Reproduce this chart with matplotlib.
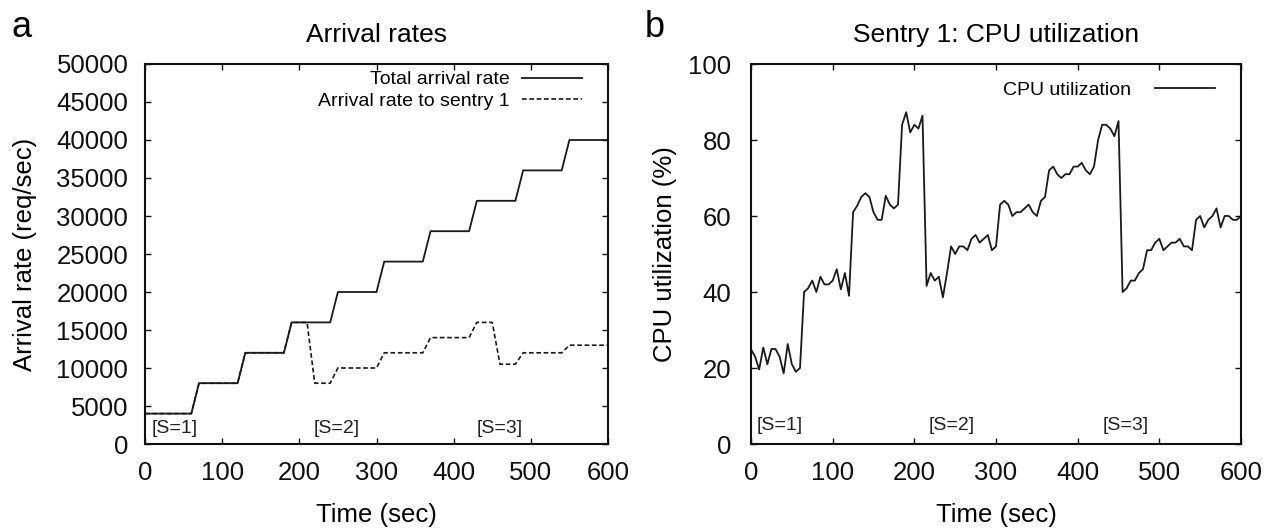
import numpy as np
import matplotlib
matplotlib.use("Agg")
import matplotlib.pyplot as plt

plt.rcParams['font.family'] = ['Liberation Sans', 'DejaVu Sans']

# ---------------- data ----------------
t_arrival = np.arange(0, 601, 10)
total_rate = [4000, 4000, 4000, 4000, 4000, 4000, 4000,
              8000, 8000, 8000, 8000, 8000, 8000,
              12000, 12000, 12000, 12000, 12000, 12000,
              16000, 16000, 16000, 16000, 16000, 16000,
              20000, 20000, 20000, 20000, 20000, 20000,
              24000, 24000, 24000, 24000, 24000, 24000,
              28000, 28000, 28000, 28000, 28000, 28000,
              32000, 32000, 32000, 32000, 32000, 32000,
              36000, 36000, 36000, 36000, 36000, 36000,
              40000, 40000, 40000, 40000, 40000, 40000]
sentry1_rate = [4000, 4000, 4000, 4000, 4000, 4000, 4000,
                8000, 8000, 8000, 8000, 8000, 8000,
                12000, 12000, 12000, 12000, 12000, 12000,
                16000, 16000, 16000,
                8000, 8000, 8000,
                10000, 10000, 10000, 10000, 10000, 10000,
                12000, 12000, 12000, 12000, 12000, 12000,
                14000, 14000, 14000, 14000, 14000, 14000,
                16000, 16000, 16000,
                10500, 10500, 10500,
                12000, 12000, 12000, 12000, 12000, 12000,
                13000, 13000, 13000, 13000, 13000, 13000]

t_cpu = np.arange(0, 601, 5)
cpu_util = [24.9, 23, 19.6, 25.4, 21, 25, 25, 23, 18.6, 26.3, 21, 19, 20,
            40, 41, 43, 40, 44, 42, 42, 43, 46, 40.7, 45, 39,
            61, 62.7, 65, 66, 65, 61, 59, 59, 65.3, 63, 62, 63,
            84, 87.3, 82, 84, 83, 86.4,
            41.6, 45, 43, 44, 38.6, 45, 52, 50, 52, 52, 51, 54, 55, 53, 54, 55, 51, 52,
            63, 64, 63, 60, 61, 61, 62, 63, 61, 60, 64, 65,
            72, 73, 71, 70, 71, 71, 73, 73, 74, 72, 71, 73,
            80, 84, 84, 83, 81, 85,
            40, 41, 43, 43, 45, 46, 51, 51, 53, 54, 51, 52, 53, 53, 54, 52, 52, 51,
            59, 60, 57, 59, 60, 62, 57, 60, 60, 59, 59, 60]

phase_labels = ['[S=1]', '[S=2]', '[S=3]']
phase_x_a = [9, 219, 430]
phase_x_b = [7, 218, 430]

xticks = [0, 100, 200, 300, 400, 500, 600]
yticks_a = [0, 5000, 10000, 15000, 20000, 25000, 30000, 35000, 40000, 45000, 50000]
yticks_b = [0, 20, 40, 60, 80, 100]

# ---------------- figure ----------------
W, H = 1274, 529
fig = plt.figure(figsize=(W / 100, H / 100), dpi=100)

line_col = '#1a1a1a'
FS = 18.5


def style(ax):
    for s in ax.spines.values():
        s.set_linewidth(1.5)
        s.set_color('#111111')
    ax.tick_params(direction='in', length=4.5, width=1.0, top=True, right=True,
                   labelsize=FS, pad=12, colors='#111111')


ax1 = fig.add_axes([145 / W, 1 - 444 / H, 463 / W, 380 / H])
ax1.plot(t_arrival, total_rate, color=line_col, lw=1.3, label='Total arrival rate')
ax1.plot(t_arrival, sentry1_rate, color=line_col, lw=1.2, linestyle=(0, (2.8, 1.6)),
         label='Arrival rate to sentry 1')
ax1.set_xlim(0, 600)
ax1.set_ylim(0, 50000)
ax1.set_xticks(xticks)
ax1.set_yticks(yticks_a)
style(ax1)
ax1.set_xlabel('Time (sec)', fontsize=FS)
ax1.set_ylabel('Arrival rate (req/sec)', fontsize=FS)
ax1.xaxis.set_label_coords(0.5, -0.155)
ax1.yaxis.set_label_coords(-0.233, 0.5)
ax1.set_title('Arrival rates', fontsize=19, pad=16)
for lab, x in zip(phase_labels, phase_x_a):
    ax1.text(x, 2100, lab, fontsize=14, ha='left', va='center', color='#222222')
ax1.legend(loc='upper right', bbox_to_anchor=(0.944, 0.982), frameon=False,
           markerfirst=False, fontsize=14, handlelength=3.1, handletextpad=0.62,
           borderaxespad=0, borderpad=0, labelspacing=0.2)

ax2 = fig.add_axes([751 / W, 1 - 444 / H, 490 / W, 380 / H])
ax2.plot(t_cpu, cpu_util, color=line_col, lw=1.3, label='CPU utilization')
ax2.set_xlim(0, 600)
ax2.set_ylim(0, 100)
ax2.set_xticks(xticks)
ax2.set_yticks(yticks_b)
style(ax2)
ax2.tick_params(axis='y', pad=14)
ax2.set_xlabel('Time (sec)', fontsize=FS)
ax2.set_ylabel('CPU utilization (%)', fontsize=FS)
ax2.xaxis.set_label_coords(0.5, -0.155)
ax2.yaxis.set_label_coords(-0.151, 0.5)
ax2.set_title('Sentry 1: CPU utilization', fontsize=19, pad=16)
for lab, x in zip(phase_labels, phase_x_b):
    ax2.text(x, 5, lab, fontsize=14, ha='left', va='center', color='#222222')
ax2.legend(loc='upper right', bbox_to_anchor=(0.947, 0.955), frameon=False,
           markerfirst=False, fontsize=14, handlelength=3.1, handletextpad=1.2,
           borderaxespad=0, borderpad=0)

fig.text(12 / W, 1 - 37 / H, 'a', fontsize=26, ha='left', va='baseline')
fig.text(645 / W, 1 - 37 / H, 'b', fontsize=26, ha='left', va='baseline')

fig.savefig('out.png', dpi=100)
